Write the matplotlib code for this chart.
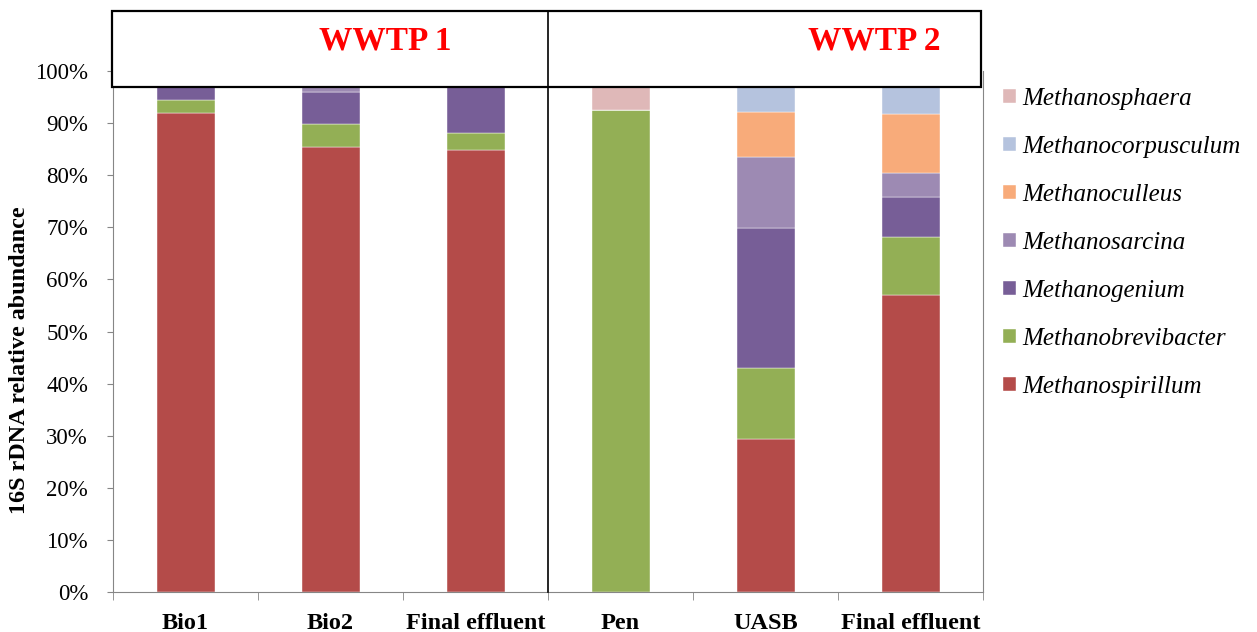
import matplotlib.pyplot as plt
import matplotlib.patches as patches
import numpy as np
from matplotlib.ticker import PercentFormatter

plt.rcParams['font.family'] = ['Liberation Serif', 'DejaVu Serif']

categories = ['Bio1', 'Bio2', 'Final effluent', 'Pen', 'UASB', 'Final effluent']
genera = ['Methanospirillum', 'Methanobrevibacter', 'Methanogenium', 'Methanosarcina',
          'Methanoculleus', 'Methanocorpusculum', 'Methanosphaera']
methanospirillum = [92.0, 85.4, 84.8, 0.0, 29.4, 57.0]
methanobrevibacter = [2.4, 4.4, 3.3, 92.5, 13.6, 11.1]
methanogenium = [5.6, 6.2, 11.9, 0.0, 26.9, 7.7]
methanosarcina = [0.0, 4.0, 0.0, 0.0, 13.6, 4.7]
methanoculleus = [0.0, 0.0, 0.0, 0.0, 8.6, 11.2]
methanocorpusculum = [0.0, 0.0, 0.0, 0.0, 7.9, 8.3]
methanosphaera = [0.0, 0.0, 0.0, 7.5, 0.0, 0.0]
groups = ['WWTP 1', 'WWTP 2']

series = [methanospirillum, methanobrevibacter, methanogenium, methanosarcina,
          methanoculleus, methanocorpusculum, methanosphaera]
colors = ['#B44B49', '#93AF55', '#775E97', '#9D8AB3', '#F8AB7A', '#B5C3DE', '#DFB8B8']

fig = plt.figure(figsize=(12.57, 6.32), dpi=100)
ax = fig.add_axes([113 / 1257, 40 / 632, 870 / 1257, 521 / 632])

x = np.arange(len(categories))
bottom = np.zeros(len(categories))
handles = []
for name, vals, c in zip(genera, series, colors):
    v = np.array(vals) / 100.0
    b = ax.bar(x, v, 0.4, bottom=bottom, color=c, edgecolor='white', linewidth=0.3, label=name)
    handles.append(b)
    bottom += v

ax.set_xlim(-0.5, len(categories) - 0.5)
ax.set_ylim(0, 1)
ax.set_yticks(np.arange(0, 1.01, 0.1))
ax.yaxis.set_major_formatter(PercentFormatter(1.0, decimals=0))
ax.tick_params(axis='y', labelsize=16.5, length=4, color='#868686', pad=14)
ax.set_xticks(x)
ax.set_xticklabels(categories, fontsize=17.5, fontweight='bold')
ax.set_xticks(np.arange(-0.5, len(categories), 1), minor=True)
ax.tick_params(axis='x', which='major', length=0, pad=15)
ax.tick_params(axis='x', which='minor', length=6, color='#868686')
for s in ['left', 'bottom', 'right']:
    ax.spines[s].set_color('#868686')
ax.spines['top'].set_visible(False)

ax.set_ylabel('16S rDNA relative abundance', fontsize=17.4, fontweight='bold')
ax.yaxis.set_label_coords(-0.095, 0.445)

# header box with plant names
box = patches.Rectangle((-0.001, 0.969), 0.9985, 0.146, transform=ax.transAxes,
                        facecolor='white', edgecolor='black', linewidth=1.6,
                        clip_on=False, zorder=5)
ax.add_patch(box)
ax.plot([2.5, 2.5], [0, 1.115], color='black', linewidth=1.2, clip_on=False, zorder=6,
        transform=ax.get_xaxis_transform())
ax.text(1.38, 1.058, groups[0], transform=ax.get_xaxis_transform(), color='red',
        fontsize=24, fontweight='bold', ha='center', va='center', zorder=7)
ax.text(4.75, 1.058, groups[1], transform=ax.get_xaxis_transform(), color='red',
        fontsize=24, fontweight='bold', ha='center', va='center', zorder=7)

leg = fig.legend(handles[::-1], genera[::-1], loc='center left',
                 bbox_to_anchor=(1003 / 1257, 389 / 632), frameon=False,
                 prop={'size': 18, 'style': 'italic'}, handlelength=0.52, handleheight=0.52,
                 handletextpad=0.25, labelspacing=1.04, borderpad=0, borderaxespad=0)

fig.savefig('out.png', dpi=100)
